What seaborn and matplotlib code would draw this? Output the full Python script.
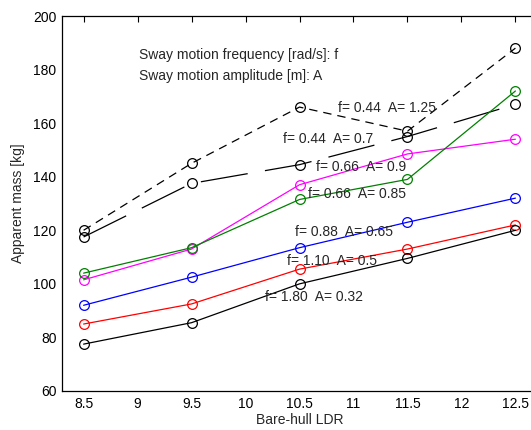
import matplotlib
matplotlib.use("Agg")
import matplotlib.pyplot as plt
import seaborn as sns
import pandas as pd

ldr = [8.5, 9.5, 10.5, 11.5, 12.5]
s_044_125 = [120, 145, 166, 157, 188]
s_044_070 = [117.5, 137.5, 144.5, 155, 167]
s_066_090 = [101.5, 113, 137, 148.5, 154]
s_066_085 = [104, 113.5, 131.5, 139, 172]
s_088_065 = [92, 102.5, 113.5, 123, 132]
s_110_050 = [85, 92.5, 105.5, 113, 122]
s_180_032 = [77.5, 85.5, 100, 109.5, 120]

labels = ["f= 0.44  A= 1.25", "f= 0.44  A= 0.7", "f= 0.66  A= 0.9",
          "f= 0.66  A= 0.85", "f= 0.88  A= 0.65", "f= 1.10  A= 0.5",
          "f= 1.80  A= 0.32"]
label_pos = [(10.86, 165.7), (10.35, 154), (10.65, 143.6), (10.58, 133.6),
             (10.46, 119.4), (10.38, 108.5), (10.18, 95)]
xticks = [8.5, 9, 9.5, 10, 10.5, 11, 11.5, 12, 12.5]
yticks = [60, 80, 100, 120, 140, 160, 180, 200]

series = [s_044_125, s_044_070, s_066_090, s_066_085, s_088_065, s_110_050, s_180_032]
colors = ["black", "black", "#ff00ff", "#008000", "#0000ff", "#ff0000", "black"]
dashes = [(6.7, 4.8), (38, 14), None, None, None, None, None]

sns.set_style("white")
plt.rcParams['font.family'] = ['Liberation Sans', 'DejaVu Sans']

fig = plt.figure(figsize=(5.31, 4.30), dpi=100)
ax = fig.add_axes([62/531, 39/430, 475/531, 375/430])

for vals, lab, c, d in zip(series, labels, colors, dashes):
    df = pd.DataFrame({"x": ldr, "y": vals})
    sns.lineplot(data=df, x="x", y="y", ax=ax, color=c, lw=0.9,
                 marker="o", markersize=7, markerfacecolor="none",
                 markeredgecolor=c, markeredgewidth=0.9)
    if d is not None:
        ax.lines[-1].set_dashes(d)

for lab, (x, y) in zip(labels, label_pos):
    ax.text(x, y, lab, fontsize=10, va="center", ha="left")

ax.text(9.01, 185.4, "Sway motion frequency [rad/s]: f", fontsize=10, va="center")
ax.text(9.01, 177.6, "Sway motion amplitude [m]: A", fontsize=10, va="center")

ax.set_xlim(8.3, 12.7)
ax.set_ylim(60, 200)
ax.set_xticks(xticks)
ax.set_xticklabels([f"{t:g}" for t in xticks])
ax.set_yticks(yticks)
ax.tick_params(direction="in", top=True, right=True, length=4, width=0.8,
               labelsize=10, pad=4, colors="black")
for s in ax.spines.values():
    s.set_color("black")
    s.set_linewidth(0.9)
ax.set_xlabel("Bare-hull LDR", fontsize=10, labelpad=2)
ax.set_ylabel("Apparent mass [kg]", fontsize=10, labelpad=6)

fig.savefig("out.png", dpi=100)
